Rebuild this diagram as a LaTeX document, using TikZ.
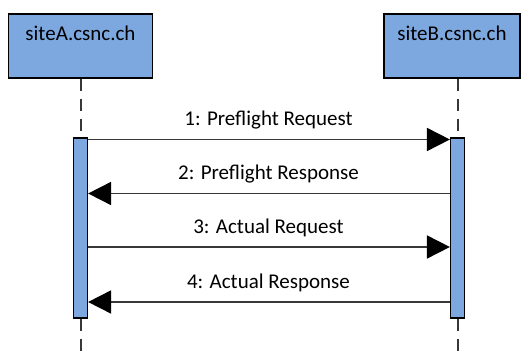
\documentclass[tikz,border=0pt]{standalone}
\usepackage{fontspec}
\setmainfont{Carlito}
\usetikzlibrary{arrows.meta, positioning}
\definecolor{hostblue}{HTML}{7DA7DF}
\definecolor{linegray}{HTML}{383838}

\begin{document}
\begin{tikzpicture}[x=1pt, y=-1pt,
  host/.style={draw=black, line width=1.2pt, fill=hostblue, minimum width=144pt,
    text height=15pt, text depth=25pt, inner ysep=12pt},
  actbar/.style={draw=black, line width=1.2pt, fill=hostblue, minimum width=14pt,
    minimum height=180pt, inner sep=0pt},
  lifeline/.style={linegray, line width=2pt, dash pattern=on 12pt off 8pt},
  msg/.style={linegray, line width=1.8pt, -{Triangle[length=23pt, width=23pt, color=black]}}]
\useasboundingbox (0,0) rectangle (521,352);
\begin{scope}[every node/.style={font=\fontsize{21}{25}\selectfont}]
\node [host] (siteA) at (80.5,46) {siteA.csnc.ch};
\node [host, minimum width=136pt] (siteB) at (452,46) {siteB.csnc.ch};
\coordinate (endA) at (80.5,352);
\coordinate (endB) at (457.5,352);
% lifelines first, bars on top
\draw [lifeline] (siteA.south) -- (endA);
\draw [lifeline] (endB |- siteB.south) -- (endB);
\node [actbar] (actA) at (80.5,228) {};
\node [actbar] (actB) at (457.5,228) {};
\foreach \i/\y/\from/\to/\txt in {1/139.5/actA.east/actB.west/Preflight Request,
                                  2/193.5/actB.west/actA.east/Preflight Response,
                                  3/247/actA.east/actB.west/Actual Request,
                                  4/302/actB.west/actA.east/Actual Response} {
  \coordinate (row\i) at (0,\y);
  \draw [msg] (\from |- row\i) -- (\to |- row\i);
  \node [anchor=base] (msg\i) at (268.5,\y-13.5) {\i: \txt};
}
\end{scope}
\end{tikzpicture}
\end{document}
